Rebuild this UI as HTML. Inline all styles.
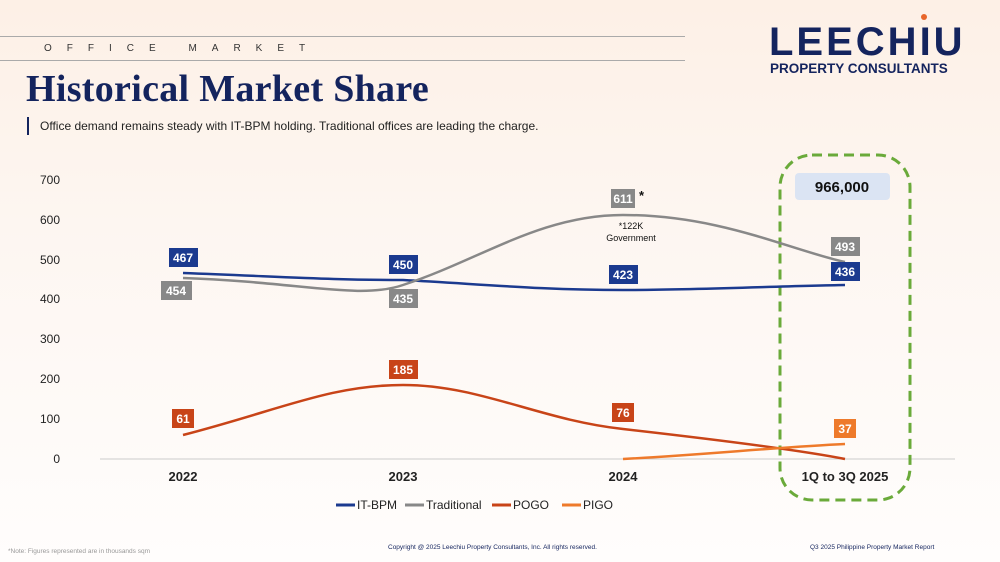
<!DOCTYPE html>
<html><head><meta charset="utf-8"><style>
body{margin:0;width:1000px;height:562px;overflow:hidden;background:linear-gradient(#fdf0e6,#fdf6f1 40%,#fffdfc);font-family:"Liberation Sans",sans-serif;position:relative}
.a{position:absolute}
</style></head><body>
<div class="a" style="left:0;top:36px;width:685px;height:1px;background:#aaa"></div>
<div class="a" style="left:0;top:60px;width:685px;height:1px;background:#aaa"></div>
<div class="a" style="left:44px;top:43px;font-size:10px;letter-spacing:15px;color:#333">OFFICE MARKET</div>
<div class="a" style="left:26px;top:67px;font-family:'Liberation Serif',serif;font-weight:bold;font-size:38px;color:#14245e;letter-spacing:0.3px">Historical Market Share</div>
<div class="a" style="left:27px;top:117px;width:2px;height:18px;background:#14245e"></div>
<div class="a" style="left:40px;top:119px;font-size:12px;color:#222">Office demand remains steady with IT-BPM holding. Traditional offices are leading the charge.</div>
<div class="a" style="left:769px;top:20px;font-size:40px;font-weight:bold;color:#14245e;letter-spacing:3px">LEECHIU</div>
<div class="a" style="left:921px;top:14px;width:6px;height:6px;border-radius:50%;background:#e8652a"></div>
<div class="a" style="left:770px;top:61px;font-size:13.5px;font-weight:bold;color:#14245e">PROPERTY CONSULTANTS</div>
<svg class="a" style="left:0;top:0" width="1000" height="562">
<g font-size="12" fill="#222" text-anchor="end">
<text x="60" y="184">700</text><text x="60" y="224">600</text><text x="60" y="264">500</text><text x="60" y="303">400</text><text x="60" y="343">300</text><text x="60" y="383">200</text><text x="60" y="423">100</text><text x="60" y="463">0</text></g>
<line x1="100" y1="459" x2="955" y2="459" stroke="#ccc"/>
<g font-size="13" font-weight="bold" fill="#222" text-anchor="middle">
<text x="183" y="481">2022</text><text x="403" y="481">2023</text><text x="623" y="481">2024</text><text x="845" y="481">1Q to 3Q 2025</text></g>
<rect x="780" y="155" width="130" height="345" rx="32" fill="none" stroke="#6aaa3a" stroke-width="3" stroke-dasharray="10,6"/>
<rect x="795" y="173" width="95" height="27" rx="4" fill="#dbe4f3"/>
<text x="842" y="192" font-size="15" font-weight="bold" text-anchor="middle" fill="#111">966,000</text>
<g fill="none" stroke-width="2.5">
<path d="M183,273 C290,277 330,280 403,280 C480,284 540,290 623,290 C700,290 780,286 845,285" stroke="#1b3a8f"/>
<path d="M183,278 C300,282 360,300 403,285 C480,260 540,215 623,215 C720,215 790,250 845,262" stroke="#888"/>
<path d="M183,435 C280,410 330,385 403,385 C480,385 540,420 623,429 C720,440 800,450 845,459" stroke="#c84418"/>
<path d="M623,459 C700,455 780,447 845,444" stroke="#ee7a2b"/>
</g>
<g font-size="12" font-weight="bold" fill="#fff" text-anchor="middle">
<rect x="169" y="248" width="29" height="19" fill="#1b3a8f"/><text x="183" y="262">467</text>
<rect x="389" y="255" width="29" height="19" fill="#1b3a8f"/><text x="403" y="269">450</text>
<rect x="609" y="265" width="29" height="19" fill="#1b3a8f"/><text x="623" y="279">423</text>
<rect x="831" y="262" width="29" height="19" fill="#1b3a8f"/><text x="845" y="276">436</text>
<rect x="161" y="281" width="31" height="19" fill="#888"/><text x="176" y="295">454</text>
<rect x="389" y="289" width="29" height="19" fill="#888"/><text x="403" y="303">435</text>
<rect x="611" y="189" width="24" height="19" fill="#888"/><text x="623" y="203">611</text>
<rect x="831" y="237" width="29" height="19" fill="#888"/><text x="845" y="251">493</text>
<rect x="172" y="409" width="22" height="19" fill="#c84418"/><text x="183" y="423">61</text>
<rect x="389" y="360" width="29" height="19" fill="#c84418"/><text x="403" y="374">185</text>
<rect x="612" y="403" width="22" height="19" fill="#c84418"/><text x="623" y="417">76</text>
<rect x="834" y="419" width="22" height="19" fill="#ee7a2b"/><text x="845" y="433">37</text>
</g>
<text x="639" y="200" font-size="13" font-weight="bold" fill="#111">*</text>
<text x="631" y="229" font-size="9" text-anchor="middle" fill="#111">*122K</text>
<text x="631" y="241" font-size="9" text-anchor="middle" fill="#111">Government</text>
<g font-size="12" fill="#222">
<line x1="336" y1="505" x2="355" y2="505" stroke="#1b3a8f" stroke-width="3"/><text x="357" y="509">IT-BPM</text>
<line x1="405" y1="505" x2="424" y2="505" stroke="#888" stroke-width="3"/><text x="426" y="509">Traditional</text>
<line x1="492" y1="505" x2="511" y2="505" stroke="#c84418" stroke-width="3"/><text x="513" y="509">POGO</text>
<line x1="562" y1="505" x2="581" y2="505" stroke="#ee7a2b" stroke-width="3"/><text x="583" y="509">PIGO</text>
</g>
<text x="8" y="553" font-size="6.5" fill="#999">*Note: Figures represented are in thousands sqm</text>
<text x="388" y="549" font-size="6.5" fill="#14245e">Copyright @ 2025 Leechiu Property Consultants, Inc. All rights reserved.</text>
<text x="810" y="549" font-size="6.5" fill="#14245e">Q3 2025 Philippine Property Market Report</text>
</svg>
</body></html>
